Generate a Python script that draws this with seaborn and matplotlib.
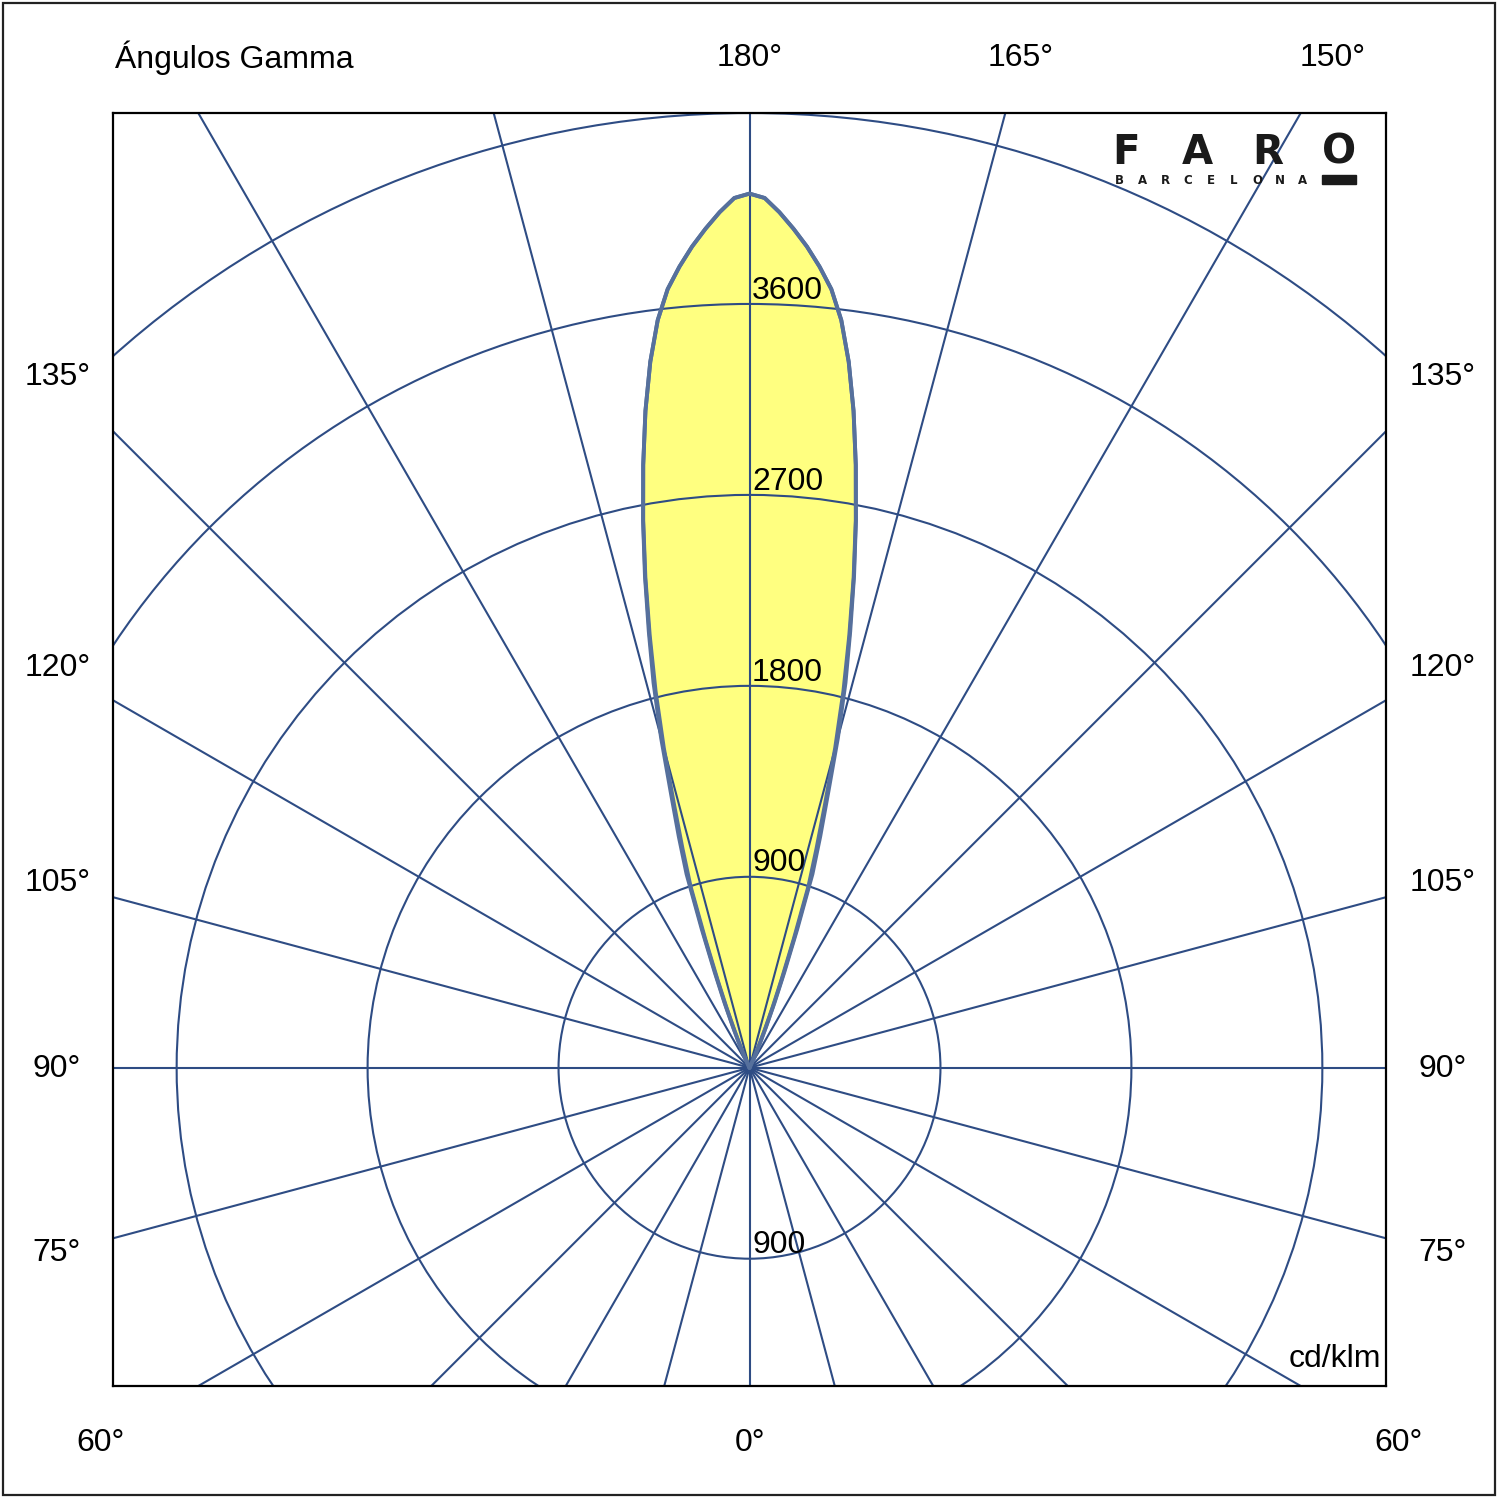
"""
Curva fotométrica (ángulos gamma) de una luminaria FARO, en cd/klm.
"""

import numpy as np
import pandas as pd
import matplotlib.pyplot as plt
import seaborn as sns
from matplotlib.patches import Circle, Rectangle

# gamma: 0 = hacia abajo, 180 = hacia arriba
gamma = list(range(180, 153, -1))
c0_c180 = [4120, 4100, 4035, 3960, 3880, 3790, 3690, 3550, 3360, 3135,
           2885, 2630, 2370, 2110, 1870, 1610, 1340, 1140, 960, 690,
           480, 330, 210, 130, 70, 30, 0]
c90_c270 = [4120, 4100, 4035, 3960, 3880, 3790, 3690, 3550, 3360, 3135,
            2885, 2625, 2360, 2090, 1830, 1560, 1290, 1080, 900, 640,
            440, 300, 190, 115, 60, 25, 0]

rings = [900, 1800, 2700, 3600, 4500]
ring_labels = ["900", "1800", "2700", "3600"]
spokes = list(range(0, 360, 15))

# etiquetas de ángulo alrededor del gráfico (texto, x px, y px)
angle_labels = [
    ("180°", 750, 58), ("165°", 1021, 58), ("150°", 1333, 58),
    ("135°", 58, 377), ("120°", 58, 668), ("105°", 58, 883),
    ("90°", 57, 1069), ("75°", 57, 1253),
    ("135°", 1443, 377), ("120°", 1443, 668), ("105°", 1443, 883),
    ("90°", 1443, 1069), ("75°", 1443, 1253),
    ("60°", 100, 1443), ("0°", 750, 1443), ("60°", 1399, 1443),
]

GRID = "#2e4c84"
CURVE = "#56709c"
FILL = "#ffff80"
W = H = 1500


def outline(values):
    """Curva cerrada: lado derecho (C0) hasta 180 y vuelta por el izquierdo (C180)."""
    g = np.radians(gamma)
    v = np.asarray(values, dtype=float)
    xr = v * np.sin(g)
    yr = -v * np.cos(g)
    x = np.concatenate([xr[::-1], -xr[1:]])
    y = np.concatenate([yr[::-1], yr[1:]])
    return pd.DataFrame({"x": x, "y": y})


def fx(px):
    return px / W


def fy(py):
    return 1 - py / H


sns.set_theme(style="white")
plt.rcParams["font.family"] = ["Liberation Sans", "DejaVu Sans"]
plt.rcParams["text.color"] = "black"

fig = plt.figure(figsize=(15, 15), dpi=100)
ax = fig.add_axes([fx(113), fy(1386), fx(1386) - fx(113), fy(113) - fy(1386)])

# relleno amarillo
out = outline(c0_c180)
ax.fill(out["x"], out["y"], color=FILL, zorder=1, lw=0)

# rejilla polar
for r in rings:
    ax.add_patch(Circle((0, 0), r, fill=False, ec=GRID, lw=1.5, zorder=2))
for a in spokes:
    t = np.radians(a)
    ax.plot([0, 8000 * np.sin(t)], [0, 8000 * np.cos(t)], color=GRID, lw=1.5, zorder=2)

# curvas de los dos planos
sns.lineplot(data=outline(c90_c270), x="x", y="y", sort=False, estimator=None,
             color=CURVE, lw=2.8, ax=ax, zorder=3)
sns.lineplot(data=out, x="x", y="y", sort=False, estimator=None,
             color=CURVE, lw=2.8, ax=ax, zorder=3)

# valores de los anillos
for r, lab in zip(rings, ring_labels):
    ax.text(12, r - 8, lab, ha="left", va="bottom", fontsize=23, zorder=4)
ax.text(12, -rings[0] - 8, ring_labels[0], ha="left", va="bottom", fontsize=23, zorder=4)

ax.text(2975, -1375, "cd/klm", ha="right", va="center", fontsize=23, zorder=4)

ax.set_xlim(-3000, 3000)
ax.set_ylim(-1500, 4500)
ax.set_aspect("equal")
ax.set_xticks([])
ax.set_yticks([])
ax.set_xlabel("")
ax.set_ylabel("")
for s in ax.spines.values():
    s.set_visible(True)
    s.set_color("black")
    s.set_linewidth(1.6)
    s.set_zorder(5)

# textos exteriores
fig.text(fx(115), fy(58), "Ángulos Gamma", ha="left", va="center", fontsize=23)
for lab, px, py in angle_labels:
    fig.text(fx(px), fy(py), lab, ha="center", va="center", fontsize=23)

# logotipo
for i, ch in enumerate("FARO"):
    fig.text(fx(1126 + i * 71), fy(153), ch, ha="center", va="center",
             fontsize=29, fontweight="bold", family="DejaVu Sans", color="#1a1a1a")
for i, ch in enumerate("BARCELONA"):
    fig.text(fx(1119 + i * 23), fy(180), ch, ha="center", va="center",
             fontsize=8.5, fontweight="bold", family="DejaVu Sans", color="#1a1a1a")
fig.patches.append(Rectangle((fx(1322), fy(184)), fx(1356) - fx(1322), fy(175) - fy(184),
                             transform=fig.transFigure, color="#1a1a1a"))

# marco exterior
fig.patches.append(Rectangle((fx(3), fy(1495)), fx(1492), fy(3) - fy(1495),
                             transform=fig.transFigure, fill=False, ec="#222222", lw=1.6))

fig.savefig("out.png", dpi=100)
